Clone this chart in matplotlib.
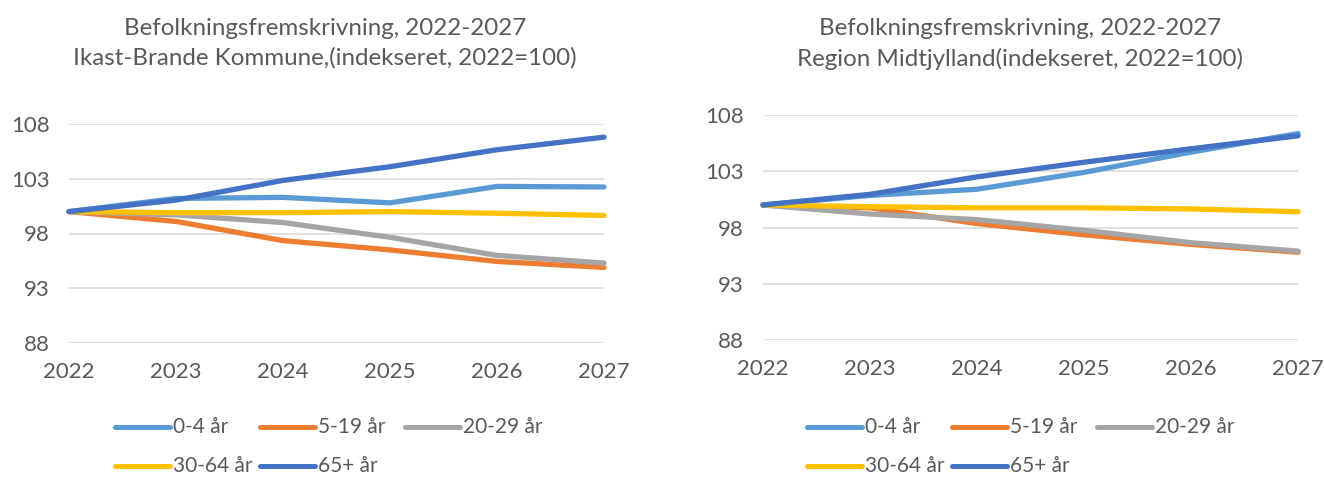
import matplotlib
matplotlib.use("Agg")
import matplotlib.pyplot as plt
from matplotlib.lines import Line2D

# data (index, 2022=100)
years = [2022, 2023, 2024, 2025, 2026, 2027]
groups = ["0-4 år", "5-19 år", "20-29 år", "30-64 år", "65+ år"]
colors = ["#5B9BD5", "#ED7D31", "#A5A5A5", "#FFC000", "#4472C4"]

ikast_0_4 = [100, 101.2, 101.3, 100.8, 102.3, 102.25]
ikast_5_19 = [100, 99.1, 97.35, 96.5, 95.45, 94.9]
ikast_20_29 = [100, 99.7, 99.0, 97.65, 96.0, 95.3]
ikast_30_64 = [100, 99.9, 99.9, 100.0, 99.85, 99.65]
ikast_65 = [100, 101.05, 102.85, 104.1, 105.65, 106.8]

midt_0_4 = [100, 100.85, 101.4, 102.9, 104.7, 106.35]
midt_5_19 = [100, 99.75, 98.35, 97.35, 96.5, 95.8]
midt_20_29 = [100, 99.2, 98.7, 97.75, 96.65, 95.9]
midt_30_64 = [100, 99.85, 99.75, 99.75, 99.65, 99.4]
midt_65 = [100, 100.95, 102.5, 103.8, 105.0, 106.15]

yticks = [88, 93, 98, 103, 108]
title1 = "Befolkningsfremskrivning, 2022-2027"
title_left = "Ikast-Brande Kommune,(indekseret, 2022=100)"
title_right = "Region Midtjylland(indekseret, 2022=100)"

TXT = "#595959"
W, H = 1324, 479
plt.rcParams["font.family"] = ["Lato", "DejaVu Sans"]

fig = plt.figure(figsize=(W / 100, H / 100), dpi=100)


def px_axes(x0, x1, ytop, ybot):
    return fig.add_axes([x0 / W, 1 - ybot / H, (x1 - x0) / W, (ybot - ytop) / H])


def draw_panel(ax, series):
    for vals, c in zip(series, colors):
        ax.plot(years, vals, color=c, lw=3.8, solid_capstyle="round",
                solid_joinstyle="round", clip_on=False, zorder=3)
    ax.set_xlim(2022, 2027)
    ax.set_ylim(88, 108)
    ax.set_yticks(yticks)
    ax.set_xticks(years)
    ax.grid(axis="y", color="#D9D9D9", lw=1.1, zorder=0)
    for s in ax.spines.values():
        s.set_visible(False)
    ax.tick_params(length=0, labelsize=16, labelcolor=TXT)
    ax.tick_params(axis="y", pad=14)
    ax.tick_params(axis="x", pad=14)


def draw_legend(x0, y1, y2):
    pos = [(x0, y1), (x0 + 145, y1), (x0 + 290, y1), (x0, y2), (x0 + 145, y2)]
    for (lx, ly), lab, c in zip(pos, groups, colors):
        fig.add_artist(Line2D([lx / W, (lx + 55) / W], [1 - ly / H, 1 - ly / H],
                              color=c, lw=3.6, solid_capstyle="round"))
        fig.text((lx + 58) / W, 1 - ly / H, lab, color=TXT, fontsize=15,
                 va="center", ha="left")


ax1 = px_axes(69, 604, 124, 343)
draw_panel(ax1, [ikast_0_4, ikast_5_19, ikast_20_29, ikast_30_64, ikast_65])
ax2 = px_axes(763, 1298, 115, 340)
draw_panel(ax2, [midt_0_4, midt_5_19, midt_20_29, midt_30_64, midt_65])

fig.text(325 / W, 1 - 35 / H, title1, ha="center", va="baseline", fontsize=17.4, color=TXT)
fig.text(325 / W, 1 - 65 / H, title_left, ha="center", va="baseline", fontsize=17.4, color=TXT)
fig.text(1020 / W, 1 - 35 / H, title1, ha="center", va="baseline", fontsize=17.4, color=TXT)
fig.text(1020 / W, 1 - 66 / H, title_right, ha="center", va="baseline", fontsize=17.4, color=TXT)

draw_legend(115, 427, 466)
draw_legend(807, 427, 466)

fig.savefig("out.png", dpi=100)
